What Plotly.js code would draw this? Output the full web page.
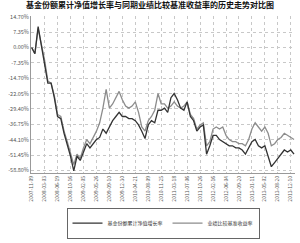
<!DOCTYPE html>
<html><head><meta charset="utf-8">
<script src="https://cdn.plot.ly/plotly-3.0.1.min.js"></script>
<style>html,body{margin:0;padding:0;background:#fff}#c{width:300px;height:243px}</style>
</head><body><div id="c"></div>
<script>
const dateLabels = ["2007-11-09","2008-03-03","2008-06-19","2008-10-16","2009-02-05","2009-05-26","2009-09-10","2009-12-30","2010-04-21","2010-08-09","2010-11-25","2011-03-18","2011-07-06","2011-10-26","2012-02-16","2012-06-04","2012-09-20","2013-01-11","2013-05-02","2013-08-20","2013-12-10"];
const fundNav = [0,-3,10,1,-6,-17,-17,-24,-33,-34,-41,-46,-52,-59,-52,-54,-50,-46,-48,-46,-44,-43,-39,-41,-38,-35,-33,-31,-33,-33,-34,-34,-35,-37,-40,-43.5,-37,-35,-36,-30,-30,-29,-31,-24,-22,-25,-29,-30,-26,-33,-35,-40,-38,-37,-51,-47,-42,-42,-44,-45,-46,-47,-47,-48,-48,-49,-51,-48,-45,-44,-47,-48,-47,-52,-57,-55,-53,-51,-49,-50,-49,-51];
const benchmark = [0,-3,9,2,-6,-16,-17,-23,-32,-33,-40,-45,-51,-56,-51,-53,-48,-44,-46,-43,-40,-36,-29,-20,-29,-27,-24,-21,-25,-28,-29,-28,-26,-31,-38,-40,-35,-33,-30,-22,-27,-27,-29,-28,-26,-28,-29,-28,-26,-32,-34,-39,-37,-36,-47,-45,-39,-38,-39,-38,-42,-44,-45,-45,-46,-46,-47,-44,-39,-36,-38,-40,-38,-41,-47,-46,-44,-43,-41,-42,-43,-44];
const yTickVals = [14.7,7.35,0,-7.35,-14.7,-22.05,-29.4,-36.75,-44.1,-51.45,-58.8];
const yTickText = ["14.70%","7.35%","0.00%","-7.35%","-14.70%","-22.05%","-29.40%","-36.75%","-44.10%","-51.45%","-58.80%"];
const seriesNames = ["基金份额累计净值增长率","业绩比较基准收益率"];
const idx = fundNav.map((_, i) => i);
const tickIdx = dateLabels.map((_, i) => i * 4);

const traces = [
  {x: idx, y: benchmark, type: 'scatter', mode: 'lines', name: seriesNames[1], legendrank: 2, line: {color: '#8c8c8c', width: 1.3}},
  {x: idx, y: fundNav, type: 'scatter', mode: 'lines', name: seriesNames[0], legendrank: 1, line: {color: '#333333', width: 1.3}}
];
const layout = {
  width: 300, height: 243,
  margin: {l: 31, r: 5, t: 16, b: 54},
  paper_bgcolor: '#fff', plot_bgcolor: '#fff',
  font: {family: 'Noto Sans CJK SC, DejaVu Sans, sans-serif', color: '#555'},
  title: {text: '<b>基金份额累计净值增长率与同期业绩比较基准收益率的历史走势对比图</b>', font: {size: 8, color: '#111', family: 'Noto Sans CJK SC'}, x: 0.5, xanchor: 'center', y: 0.978, yref: 'container', yanchor: 'middle'},
  xaxis: {range: [-0.2, 81.3], tickmode: 'array', tickvals: tickIdx, ticktext: dateLabels, tickangle: -90, tickfont: {size: 5, color: '#555'},
    showgrid: true, gridcolor: '#c8c8c8', griddash: 'dot', gridwidth: 1, zeroline: false, showline: true, linecolor: '#999', linewidth: 1, ticks: '', automargin: false},
  yaxis: {range: [-60, 15.05], tickmode: 'array', tickvals: yTickVals, ticktext: yTickText, tickfont: {size: 5.5, color: '#555'},
    showgrid: true, gridcolor: '#c8c8c8', griddash: 'dot', gridwidth: 1, zeroline: false, showline: true, linecolor: '#999', linewidth: 1, ticks: '', automargin: false},
  showlegend: true,
  legend: {orientation: 'h', x: 0.5, xanchor: 'center', xref: 'paper', y: -0.22, yref: 'paper', yanchor: 'top',
    font: {size: 5, color: '#333'}, bordercolor: '#666', borderwidth: 1, bgcolor: '#fff', itemwidth: 30, tracegroupgap: 0}
};
Plotly.newPlot('c', traces, layout, {staticPlot: true, displayModeBar: false});
</script></body></html>
